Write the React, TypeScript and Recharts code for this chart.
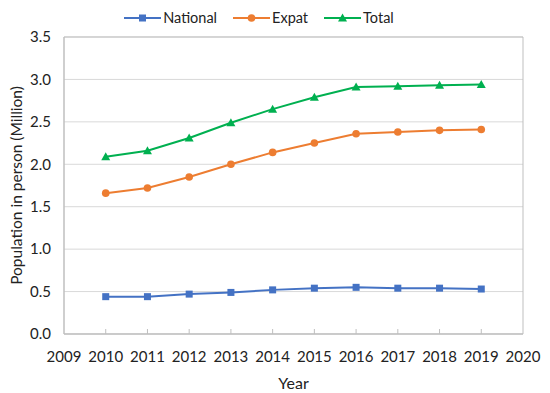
import {
  LineChart,
  Line,
  XAxis,
  YAxis,
  CartesianGrid,
  Legend,
  ReferenceArea,
} from "recharts";

const years = [2010, 2011, 2012, 2013, 2014, 2015, 2016, 2017, 2018, 2019];
const national = [0.44, 0.44, 0.47, 0.49, 0.52, 0.54, 0.55, 0.54, 0.54, 0.53];
const expat = [1.66, 1.72, 1.85, 2.0, 2.14, 2.25, 2.36, 2.38, 2.4, 2.41];
const total = [2.09, 2.16, 2.31, 2.49, 2.65, 2.79, 2.91, 2.92, 2.93, 2.94];
const xTicks = [2009, 2010, 2011, 2012, 2013, 2014, 2015, 2016, 2017, 2018, 2019, 2020];
const yTicks = [0, 0.5, 1, 1.5, 2, 2.5, 3, 3.5];

const BLUE = "#4472C4";
const ORANGE = "#ED7D31";
const GREEN = "#00B050";
const FONT = "Lato, 'Open Sans', sans-serif";

const data = years.map((year, i) => ({
  year,
  national: national[i],
  expat: expat[i],
  total: total[i],
}));

function Marker({ shape, cx, cy, color }: { shape: string; cx: number; cy: number; color: string }) {
  if (shape === "square") {
    return <rect x={cx - 3.5} y={cy - 3.5} width={7} height={7} fill={color} />;
  }
  if (shape === "triangle") {
    return (
      <polygon
        points={`${cx},${cy - 4.5} ${cx - 4.5},${cy + 3.5} ${cx + 4.5},${cy + 3.5}`}
        fill={color}
      />
    );
  }
  return <circle cx={cx} cy={cy} r={3.8} fill={color} />;
}

const series = [
  { key: "national", name: "National", color: BLUE, shape: "square" },
  { key: "expat", name: "Expat", color: ORANGE, shape: "circle" },
  { key: "total", name: "Total", color: GREEN, shape: "triangle" },
];

function LegendContent() {
  return (
    <div style={{ display: "flex", justifyContent: "center", alignItems: "center", fontFamily: FONT, fontSize: 14.5, color: "#222" }}>
      {series.map((s, i) => (
        <div key={s.key} style={{ display: "flex", alignItems: "center", marginLeft: i === 0 ? 0 : 16 }}>
          <svg width={37} height={12}>
            <line x1={0} y1={6} x2={37} y2={6} stroke={s.color} strokeWidth={2} />
            <Marker shape={s.shape} cx={18.5} cy={6} color={s.color} />
          </svg>
          <span style={{ marginLeft: 2 }}>{s.name}</span>
        </div>
      ))}
    </div>
  );
}

function XTick(props: any) {
  const { x, y, payload } = props;
  const axisY = y - 8;
  const inner = payload.value !== 2009 && payload.value !== 2020;
  return (
    <g>
      {inner && <line x1={x} y1={axisY} x2={x} y2={axisY - 5} stroke="#bfbfbf" />}
      <text x={x} y={axisY + 28} textAnchor="middle" fill="#222" fontSize={15} fontFamily={FONT}>
        {payload.value}
      </text>
    </g>
  );
}

export default function App() {
  return (
    <div style={{ position: "absolute", left: 0, top: 0, background: "#fff" }}>
      <LineChart
        width={550}
        height={393}
        data={data}
        margin={{ top: 37, right: 27, left: 0, bottom: 0 }}
        style={{ fontFamily: FONT }}
      >
        <CartesianGrid vertical={false} stroke="#d9d9d9" />
        <XAxis
          dataKey="year"
          type="number"
          domain={[2009, 2020]}
          ticks={xTicks}
          interval={0}
          height={59}
          axisLine={{ stroke: "#bfbfbf" }}
          tickLine={false}
          tick={<XTick />}
          label={{ value: "Year", position: "insideBottom", offset: 4, fill: "#222", fontSize: 16 }}
        />
        <YAxis
          type="number"
          domain={[0, 3.5]}
          ticks={yTicks}
          interval={0}
          width={64}
          axisLine={{ stroke: "#bfbfbf" }}
          tickLine={false}
          tickSize={0}
          tickMargin={13}
          tickFormatter={(v: number) => v.toFixed(1)}
          tick={{ fill: "#222", fontSize: 15 }}
          label={{
            value: "Population in person (Million)",
            angle: -90,
            position: "insideLeft",
            offset: 16,
            fill: "#222",
            fontSize: 15.5,
            style: { textAnchor: "middle" },
          }}
        />
        <ReferenceArea x1={2009} x2={2020} y1={0} y2={3.5} fill="none" stroke="#bfbfbf" />
        <Legend
          layout="horizontal"
          verticalAlign="middle"
          align="center"
          wrapperStyle={{ top: 9, left: 0, width: 518 }}
          content={<LegendContent />}
        />
        {series.map((s) => (
          <Line
            key={s.key}
            dataKey={s.key}
            name={s.name}
            stroke={s.color}
            strokeWidth={2}
            isAnimationActive={false}
            dot={(p: any) => (
              <Marker key={`${s.key}-${p.index}`} shape={s.shape} cx={p.cx} cy={p.cy} color={s.color} />
            )}
            activeDot={false}
          />
        ))}
      </LineChart>
    </div>
  );
}
